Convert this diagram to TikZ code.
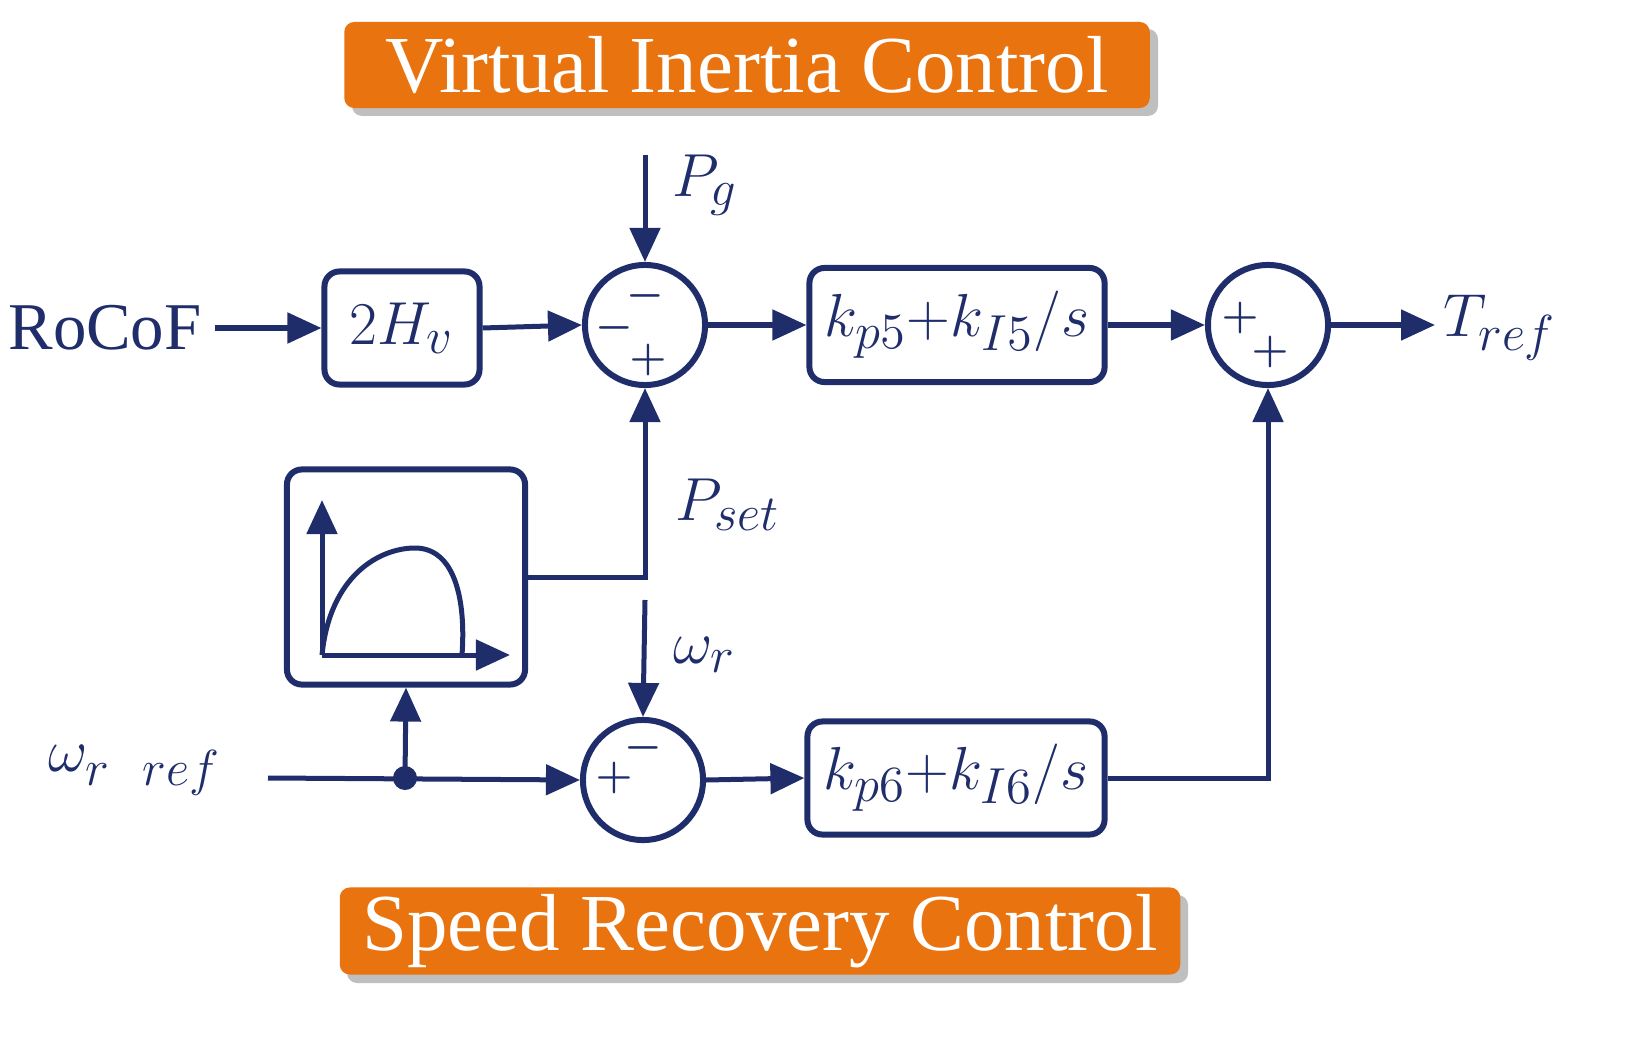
\documentclass[tikz,border=0pt]{standalone}
\usepackage{amsmath}
\usepackage{amssymb}
\usepackage{bm}
\usepackage{fontspec}
\setmainfont{Liberation Serif}
\usetikzlibrary{arrows.meta}
\usetikzlibrary{calc}
\definecolor{navy}{HTML}{1F2D6B}
\definecolor{banner}{HTML}{E8730F}
\tikzset{
  blk/.style={draw=navy,line width=0.6mm,rounded corners=1.5mm,fill=white,inner sep=0pt},
  sumc/.style={draw=navy,line width=0.6mm,circle,minimum size=1.2cm,inner sep=0pt},
  sig/.style={-{Triangle[length=3.4mm,width=3mm]},draw=navy,line width=0.5mm},
  ttl/.style={fill=banner,text=white,font=\fontsize{23}{25}\selectfont,inner sep=0pt,rounded corners=1mm},
  lbl/.style={text=navy,font=\fontsize{19}{21}\selectfont},
  sgn/.style={text=navy,font=\fontsize{13}{13}\selectfont,inner sep=0pt}
}
\begin{document}
\begin{tikzpicture}[x=0.01cm,y=-0.01cm]
\useasboundingbox (0,0) rectangle (1631,1040);
% banners
\fill[black!25,rounded corners=1mm] (352,29) rectangle (1158,116);
\node[ttl,minimum width=8.05cm,minimum height=0.86cm] (vic) at (747,65) {Virtual Inertia Control};
\fill[black!25,rounded corners=1mm] (347,895) rectangle (1188,983);
\node[ttl,minimum width=8.4cm,minimum height=0.87cm] (src) at (760,931) {Speed Recovery Control};
% blocks
\node[blk,minimum width=1.55cm,minimum height=1.13cm,lbl] (hv) at (402,328) {$2H_v$};
\node[blk,minimum width=2.95cm,minimum height=1.14cm,lbl] (pi5) at (957,325) {$k_{p5}{+}k_{I5}/s$};
\node[blk,minimum width=2.97cm,minimum height=1.13cm,lbl] (pi6) at (956,778) {$k_{p6}{+}k_{I6}/s$};
\node[blk,minimum width=2.38cm,minimum height=2.15cm] (curve) at (406,577) {};
\node[sumc] (s1) at (645,325) {};
\node[sumc] (s2) at (1268,325) {};
\node[sumc] (s3) at (643,780) {};
% signs
\node[sgn] at (645,296) {$\bm{-}$};
\node[sgn] at (614,328) {$\bm{-}$};
\node[sgn] at (648,360) {$\bm{+}$};
\node[sgn] at (1240,318) {$\bm{+}$};
\node[sgn] at (1270,352) {$\bm{+}$};
\node[sgn] at (614,778) {$\bm{+}$};
\node[sgn] at (643,748) {$\bm{-}$};
% labels
\node[lbl] (rocof) at (105,328) {RoCoF};
\node[lbl] (pg) at (705,185) {$P_g$};
\node[lbl] (pset) at (728,505) {$P_{set}$};
\node[lbl] (wr) at (705,655) {$\omega_r$};
\node[lbl] (wref) at (135,770) {$\omega_{r\ \ ref}$};
\node[lbl] (tref) at (1500,328) {$T_{ref}$};
\coordinate (pgin) at (645,155);
\coordinate (wrin) at (645,600);
\coordinate (win) at (268,778);
\coordinate (out) at (1435,325);
\coordinate (tap) at (405,778);
% connectors
\draw[sig] (215,328) -- (hv.west);
\draw[sig] (hv.east) -- (s1.west);
\draw[sig] (pgin) -- (s1.north);
\draw[sig] (s1.east) -- (pi5.west);
\draw[sig] (pi5.east) -- (s2.west);
\draw[sig] (s2.east) -- (out);
\draw[sig] (curve.east) -| (s1.south);
\draw[sig] (wrin) -- (s3.north);
\draw[sig] (win) -- (s3.west);
\draw[sig] (tap) -- (curve.south);
\fill[navy] (tap) circle (12);
\draw[sig] (s3.east) -- (pi6.west);
\draw[sig] (pi6.east) -| (s2.south);
% curve characteristic
\draw[sig] (322,655) -- (322,500);
\draw[sig] (322,655) -- (510,655);
\draw[navy,line width=0.5mm] (322,655) .. controls (330,575) and (380,548) .. (415,548) .. controls (455,548) and (466,600) .. (462,655);
\end{tikzpicture}
\end{document}
